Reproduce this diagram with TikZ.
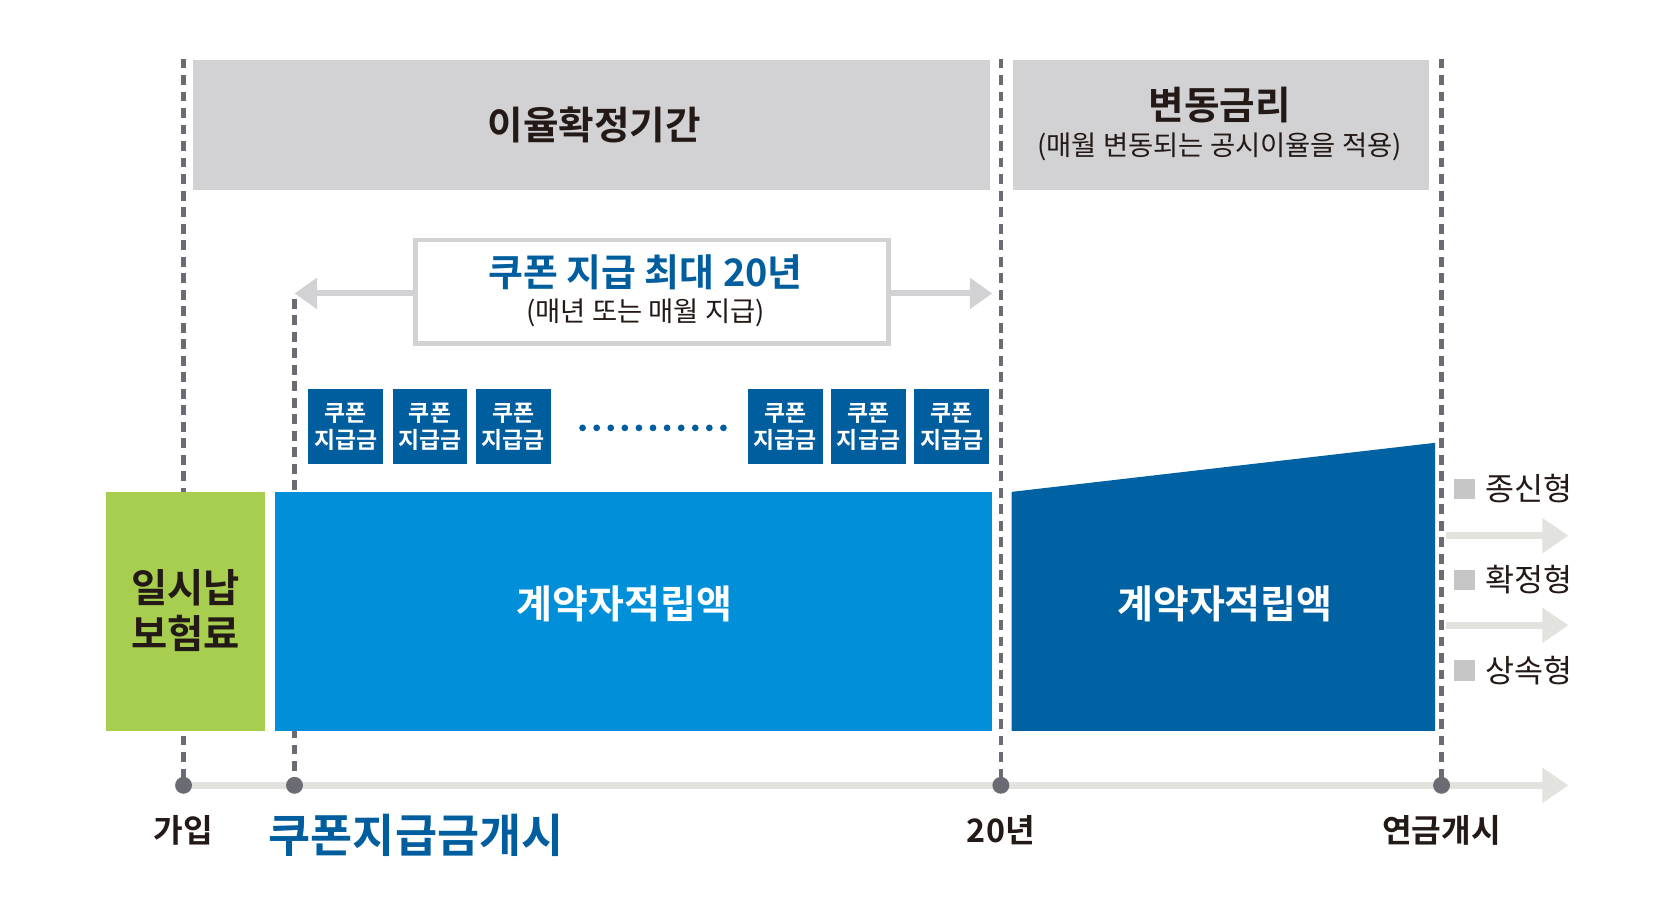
\documentclass[tikz,border=0pt]{standalone}
\usepackage{fontspec}
\setmainfont{Noto Sans CJK KR}
\newfontfamily\kb{Noto Sans CJK KR Bold}
\usetikzlibrary{arrows.meta}
\definecolor{cblue}{HTML}{005E9E}
\definecolor{lblue}{HTML}{008FD8}
\definecolor{dblue}{HTML}{0062A3}
\definecolor{lgreen}{HTML}{A8CE4F}
\definecolor{gbox}{HTML}{D2D2D4}
\definecolor{dgray}{HTML}{6B6B73}
\definecolor{lgray}{HTML}{E2E2DE}
\definecolor{txt}{HTML}{231916}
\tikzset{
 vdash/.style={dgray,line width=1.1pt,dash pattern=on 2.6pt off 1.8pt},
 dot/.style={circle,fill=dgray,inner sep=0,minimum size=4.5pt},
 cbox/.style={fill=cblue,text=white,align=center,minimum width=19.9pt,minimum height=19.9pt,inner sep=0,font=\kb\fontsize{6.1}{7.4}\selectfont},
 garrow/.style={lgray,line width=1.8pt,-{Triangle[length=7pt,width=9pt]}},
 lab/.style={text=txt,font=\kb\fontsize{8.6}{10}\selectfont},
}
\begin{document}
\begin{tikzpicture}[x=0.01cm,y=-0.01cm]
\useasboundingbox (0,0) rectangle (1567,861);
\fill[gbox] (181,56) rectangle (928,178);
\node[text=txt,font=\kb\fontsize{10.3}{12}\selectfont] (fix) at (557,117) {이율확정기간};
\fill[gbox] (949,56) rectangle (1339,178);
\node[text=txt,font=\kb\fontsize{10.3}{12}\selectfont] (var) at (1143,98) {변동금리};
\node[text=txt,font=\fontsize{7.3}{9}\selectfont] (varsub) at (1143,138) {(매월 변동되는 공시이율을 적용)};
\coordinate (tl0) at (172,736);
\coordinate (tl1) at (1470,736);
\draw[garrow] (tl0) -- (tl1);
\draw[vdash] (172,55) -- (172,736);
\draw[vdash] (276,280) -- (276,736);
\draw[vdash] (938,55) -- (938,736);
\draw[vdash] (1351,55) -- (1351,736);
\node[draw=gbox,line width=1.3pt,fill=white,minimum width=126pt,minimum height=27.6pt,inner sep=0] (rng) at (611,273.5) {};
\node[text=cblue,font=\kb\fontsize{10.1}{12}\selectfont] at (605,255) {쿠폰 지급 최대 20년};
\node[text=txt,font=\fontsize{7.3}{9}\selectfont] at (605,293) {(매년 또는 매월 지급)};
\coordinate (ra) at (276,275);
\coordinate (rb) at (930,275);
\draw[gbox,line width=1.6pt,-{Triangle[length=6pt,width=8pt]}] (rng.west|-ra) -- (ra);
\draw[gbox,line width=1.6pt,-{Triangle[length=6pt,width=8pt]}] (rng.east|-rb) -- (rb);
\foreach \x/\n in {324/c1,403/c2,481/c3,736/c4,814/c5,892/c6}
  \node[cbox] (\n) at (\x,400) {쿠폰\\지급금};
\foreach \i in {0,...,10} \fill[cblue] (546+\i*13.2,401) circle (0.9pt);
\fill[lgreen] (99,461) rectangle (248,685);
\node[text=txt,align=center,font=\kb\fontsize{10.5}{12.4}\selectfont] (pay) at (174,572) {일시납\\보험료};
\fill[lblue] (258,461) rectangle (930,685);
\node[text=white,font=\kb\fontsize{10.4}{12}\selectfont] (acc1) at (585,566) {계약자적립액};
\fill[dblue] (948,461) -- (1345,415) -- (1345,685) -- (948,685) -- cycle;
\node[text=white,font=\kb\fontsize{10.4}{12}\selectfont] (acc2) at (1148,566) {계약자적립액};
\foreach \y/\t/\n in {458/종신형/l1,543/확정형/l2,628/상속형/l3}{
  \fill[gray!45] (1363,\y-9) rectangle (1382,\y+10);
  \node[text=txt,anchor=west,inner sep=1pt,font=\fontsize{8.4}{10}\selectfont] (\n) at (1388,\y) {\t};
}
\coordinate (a1s) at (1355,502); \coordinate (a1e) at (1470,502);
\coordinate (a2s) at (1355,586); \coordinate (a2e) at (1470,586);
\draw[garrow] (a1s) -- (a1e);
\draw[garrow] (a2s) -- (a2e);
\foreach \x/\n in {172/d1,276/d2,938/d3,1351/d4} \node[dot] (\n) at (\x,736) {};
\node[lab] (j) at (172,778) {가입};
\node[text=cblue,font=\kb\fontsize{12.2}{14}\selectfont] (cs) at (390,783) {쿠폰지급금개시};
\node[lab] (y20) at (938,778) {20년};
\node[lab] (ann) at (1351,778) {연금개시};
\end{tikzpicture}
\end{document}
